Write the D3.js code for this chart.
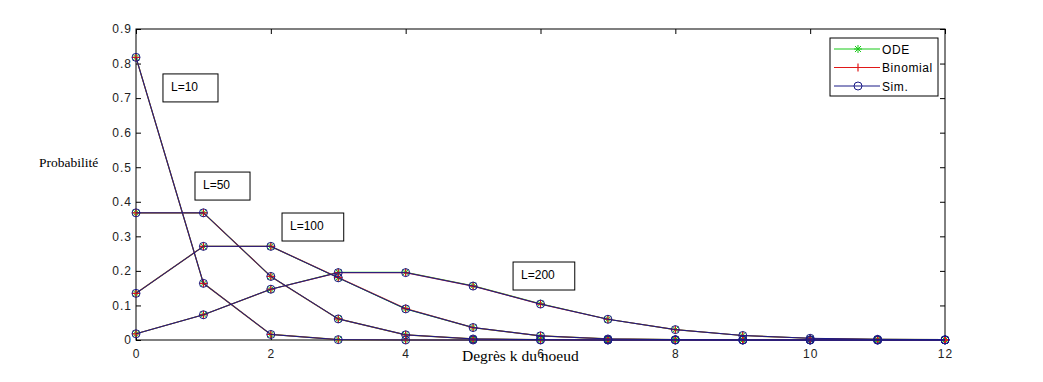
<!DOCTYPE html>
<html><head><meta charset="utf-8">
<script src="https://cdn.jsdelivr.net/npm/d3@7/dist/d3.min.js"></script>
<style>
html,body{margin:0;padding:0;background:#fff;}
svg{display:block;}
.tick text{font-family:"Liberation Sans",Arial,sans-serif;font-size:12px;letter-spacing:1px;fill:#222;}
</style></head>
<body>
<svg id="chart" width="1043" height="382"></svg>
<script>
// ---- data ----
const degrees = [0,1,2,3,4,5,6,7,8,9,10,11,12];
const xTicks = [0,2,4,6,8,10,12];
const yTicks = [0,0.1,0.2,0.3,0.4,0.5,0.6,0.7,0.8,0.9];
const seriesNames = ["ODE","Binomial","Sim."];
const curveLabels = ["L=10","L=50","L=100","L=200"];
// Sim. values
const simL10  = [0.818,0.164,0.016,0.001,0,0,0,0,0,0,0,0,0];
const simL50  = [0.368,0.368,0.184,0.061,0.015,0.003,0.001,0,0,0,0,0,0];
const simL100 = [0.135,0.271,0.271,0.180,0.090,0.036,0.012,0.003,0.001,0,0,0,0];
const simL200 = [0.018,0.073,0.147,0.195,0.195,0.156,0.104,0.060,0.030,0.013,0.005,0.002,0.001];
// ODE values
const odeL10  = [0.818,0.164,0.016,0.001,0,0,0,0,0,0,0,0,0];
const odeL50  = [0.368,0.368,0.184,0.061,0.015,0.003,0.001,0,0,0,0,0,0];
const odeL100 = [0.135,0.271,0.271,0.180,0.090,0.036,0.012,0.003,0.001,0,0,0,0];
const odeL200 = [0.018,0.073,0.147,0.196,0.196,0.157,0.105,0.060,0.030,0.013,0.005,0.002,0.001];
// Binomial values
const binL10  = [0.818,0.164,0.016,0.001,0,0,0,0,0,0,0,0,0];
const binL50  = [0.368,0.368,0.184,0.061,0.015,0.003,0.001,0,0,0,0,0,0];
const binL100 = [0.135,0.271,0.271,0.181,0.091,0.036,0.012,0.003,0.001,0,0,0,0];
const binL200 = [0.018,0.073,0.147,0.195,0.195,0.156,0.104,0.060,0.030,0.013,0.005,0.002,0.001];

// annotation anchors (data coords of the box's top-left corner)
const labelK = [0.40,0.875,2.166,5.593];
const labelP = [0.770,0.486,0.3675,0.2257];

// ---- layout ----
const pL=136, pR=945, pT=29, pB=340;
const svg = d3.select("#chart");
const x = d3.scaleLinear().domain([0,12]).range([pL,pR]);
const y = d3.scaleLinear().domain([0,0.9]).range([pB,pT]);

const colors = {ODE:"#19c919", Binomial:"#e01818", "Sim.":"#1a1a86"};
const tl = 5;

// axes (MATLAB-style inward ticks, mirrored)
const fmtY = d => d===0 ? "0" : d3.format(".1f")(d);
svg.append("g").attr("transform",`translate(0,${pB})`)
  .call(d3.axisBottom(x).tickValues(xTicks).tickSize(-tl).tickPadding(9).tickFormat(d3.format("d")))
  .call(g=>{g.select(".domain").remove(); g.selectAll(".tick line").attr("stroke","#000");});
svg.append("g").attr("transform",`translate(0,${pT})`)
  .call(d3.axisTop(x).tickValues(xTicks).tickSize(-tl).tickFormat(""))
  .call(g=>{g.select(".domain").remove(); g.selectAll(".tick line").attr("stroke","#000");});
svg.append("g").attr("transform",`translate(${pL},0)`)
  .call(d3.axisLeft(y).tickValues(yTicks).tickSize(-tl).tickPadding(4).tickFormat(fmtY))
  .call(g=>{g.select(".domain").remove(); g.selectAll(".tick line").attr("stroke","#000");});
svg.append("g").attr("transform",`translate(${pR},0)`)
  .call(d3.axisRight(y).tickValues(yTicks).tickSize(-tl).tickFormat(""))
  .call(g=>{g.select(".domain").remove(); g.selectAll(".tick line").attr("stroke","#000");});
svg.selectAll(".tick text").attr("fill","#222");

svg.append("rect").attr("x",pL).attr("y",pT).attr("width",pR-pL).attr("height",pB-pT)
  .attr("fill","none").attr("stroke","#000").attr("stroke-width",1);

// curves
const groups = [
  {name:"ODE", data:[odeL10,odeL50,odeL100,odeL200], w:1.2, op:0.9},
  {name:"Binomial", data:[binL10,binL50,binL100,binL200], w:1.2, op:0.8},
  {name:"Sim.", data:[simL10,simL50,simL100,simL200], w:1.0, op:1}
];
const line = d3.line().x((d,i)=>x(degrees[i])).y(d=>y(d));
function drawMarker(g, name, cx, cy, col){
  if(name==="Sim."){
    g.append("circle").attr("cx",cx).attr("cy",cy).attr("r",4).attr("fill","none").attr("stroke",col).attr("stroke-width",1);
  } else if(name==="Binomial"){
    g.append("path").attr("d",`M${cx-4},${cy}H${cx+4}M${cx},${cy-4}V${cy+4}`).attr("stroke",col).attr("stroke-width",1.2);
  } else {
    g.append("path").attr("d",`M${cx-4},${cy}H${cx+4}M${cx},${cy-4}V${cy+4}M${cx-3},${cy-3}L${cx+3},${cy+3}M${cx-3},${cy+3}L${cx+3},${cy-3}`)
      .attr("stroke",col).attr("stroke-width",1);
  }
}
groups.forEach(s=>{
  const g = svg.append("g");
  s.data.forEach(arr=>{
    g.append("path").attr("d",line(arr)).attr("fill","none").attr("stroke",colors[s.name])
      .attr("stroke-width",s.w).attr("stroke-opacity",s.op);
  });
  s.data.forEach(arr=>{
    arr.forEach((v,i)=>drawMarker(g,s.name,x(degrees[i]),y(v),colors[s.name]));
  });
});

// annotation boxes
curveLabels.forEach((t,i)=>{
  const bx=x(labelK[i]), by=y(labelP[i]);
  const g=svg.append("g");
  const txt=g.append("text").attr("x",bx+8).attr("y",by+17).text(t)
    .attr("font-family","Liberation Sans, Arial, sans-serif").attr("font-size",12).attr("fill","#000");
  const w=txt.node().getComputedTextLength();
  g.insert("rect","text").attr("x",bx).attr("y",by).attr("width",w+28).attr("height",28)
    .attr("fill","#fff").attr("stroke","#000").attr("stroke-width",1);
});

// legend
const lg = svg.append("g");
lg.append("rect").attr("x",830).attr("y",38).attr("width",108).attr("height",58)
  .attr("fill","#fff").attr("stroke","#000").attr("stroke-width",1);
seriesNames.forEach((n,i)=>{
  const ly = 49 + i*18.5;
  lg.append("line").attr("x1",834).attr("x2",880).attr("y1",ly).attr("y2",ly).attr("stroke",colors[n]).attr("stroke-width",1);
  drawMarker(lg,n,858,ly,colors[n]);
  lg.append("text").attr("x",882).attr("y",ly+4.5).text(n)
    .attr("font-family","Liberation Sans, Arial, sans-serif").attr("font-size",12).attr("letter-spacing",0.6).attr("fill","#000");
});

// axis titles
svg.append("text").attr("x",39).attr("y",167).text("Probabilité")
  .attr("font-family","Liberation Serif, Times New Roman, serif").attr("font-size",13.5).attr("fill","#000");
svg.append("text").attr("x",462).attr("y",361).text("Degrès k du noeud")
  .attr("font-family","Liberation Serif, Times New Roman, serif").attr("font-size",15.5).attr("fill","#000");
</script>
</body></html>
